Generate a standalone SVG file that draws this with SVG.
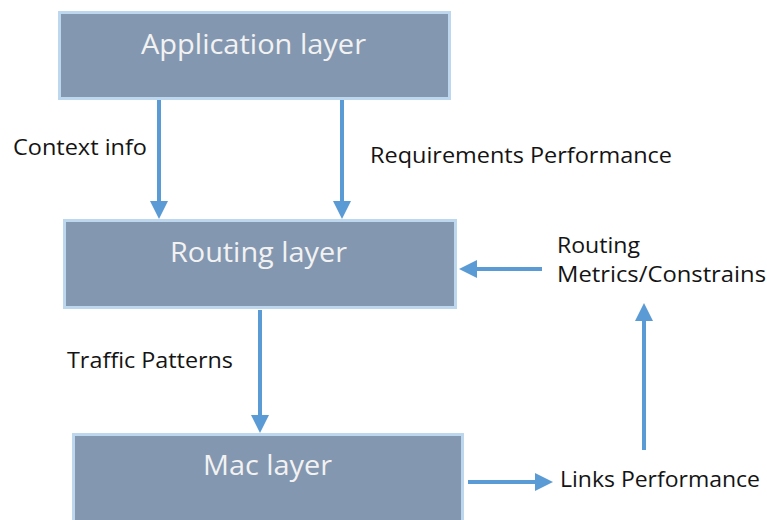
<svg xmlns="http://www.w3.org/2000/svg" width="767" height="520" viewBox="0 0 767 520">
<style>
.box{fill:#8497b0;stroke:#bdd7ee;stroke-width:3}
.bt{font-family:"Open Sans","Liberation Sans",sans-serif;font-size:28px;fill:#f2f2f2}
.lb{font-family:"Open Sans","Liberation Sans",sans-serif;font-size:22px;fill:#141414}
.ar{stroke:#5b9bd5;stroke-width:4;fill:none;marker-end:url(#ah)}
</style>
<defs>
<marker id="ah" viewBox="0 0 18 18" markerWidth="18" markerHeight="18" refX="0" refY="9" orient="auto" markerUnits="userSpaceOnUse">
<path d="M0,0 L18,9 L0,18 z" fill="#5b9bd5"/>
</marker>
</defs>
<rect width="767" height="520" fill="#ffffff"/>
<g id="application">
<rect class="box" x="59.5" y="12.5" width="390" height="86"/>
<text class="bt" x="141" y="54" textLength="225" lengthAdjust="spacingAndGlyphs">Application layer</text>
</g>
<g id="routing">
<rect class="box" x="64.5" y="220.5" width="391" height="87"/>
<text class="bt" x="170" y="262" textLength="177" lengthAdjust="spacingAndGlyphs">Routing layer</text>
</g>
<g id="mac">
<rect class="box" x="73.5" y="434.5" width="389" height="100"/>
<text class="bt" x="203" y="475" textLength="129" lengthAdjust="spacingAndGlyphs">Mac layer</text>
</g>
<g id="connectors">
<line class="ar" x1="159" y1="100" x2="159" y2="201"/>
<line class="ar" x1="342" y1="100" x2="342" y2="201"/>
<line class="ar" x1="260" y1="310" x2="260" y2="415"/>
<line class="ar" x1="542" y1="269" x2="477" y2="269"/>
<line class="ar" x1="644" y1="450" x2="644" y2="321"/>
<line class="ar" x1="468" y1="482" x2="535" y2="482"/>
</g>
<g id="labels">
<text class="lb" x="13" y="155" textLength="134" lengthAdjust="spacingAndGlyphs">Context info</text>
<text class="lb" x="370" y="163" textLength="302" lengthAdjust="spacingAndGlyphs">Requirements Performance</text>
<text class="lb" x="557" y="253" textLength="83" lengthAdjust="spacingAndGlyphs">Routing</text>
<text class="lb" x="557" y="282" textLength="209" lengthAdjust="spacingAndGlyphs">Metrics/Constrains</text>
<text class="lb" x="67" y="368" textLength="166" lengthAdjust="spacingAndGlyphs">Traffic Patterns</text>
<text class="lb" x="560" y="487" textLength="200" lengthAdjust="spacingAndGlyphs">Links Performance</text>
</g>
</svg>
